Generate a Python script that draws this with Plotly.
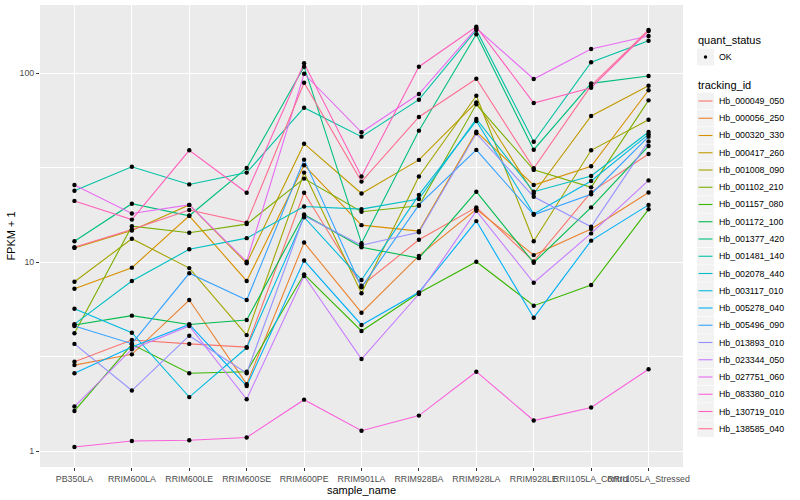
import plotly.graph_objects as go

samples = ["PB350LA", "RRIM600LA", "RRIM600LE", "RRIM600SE", "RRIM600PE",
           "RRIM901LA", "RRIM928BA", "RRIM928LA", "RRIM928LE",
           "RRII105LA_Control", "RRII105LA_Stressed"]

tracking_ids = ["Hb_000049_050", "Hb_000056_250", "Hb_000320_330", "Hb_000417_260",
                "Hb_001008_090", "Hb_001102_210", "Hb_001157_080", "Hb_001172_100",
                "Hb_001377_420", "Hb_001481_140", "Hb_002078_440", "Hb_003117_010",
                "Hb_005278_040", "Hb_005496_090", "Hb_013893_010", "Hb_023344_050",
                "Hb_027751_060", "Hb_083380_010", "Hb_130719_010", "Hb_138585_040"]

colors = ["#F8766D", "#EA8331", "#D89000", "#C09B00", "#A3A500", "#7CAE00", "#39B600",
          "#00BB4E", "#00BF7D", "#00C1A3", "#00BFC4", "#00BAE0", "#00B0F6", "#35A2FF",
          "#9590FF", "#C77CFF", "#E76BF3", "#FA62DB", "#FF62BC", "#FF6C91"]

# FPKM + 1 per sample (order of `samples`)
hb_000049_050 = [2.97, 3.87, 3.69, 3.55, 23.3, 7.50, 13.15, 19.5, 10.1, 23.5, 37.4]
hb_000056_250 = [2.85, 3.25, 6.30, 2.26, 12.7, 5.40, 10.8, 19.05, 10.9, 15.0, 23.4]
hb_000320_330 = [7.23, 9.35, 17.6, 7.95, 32.6, 15.7, 14.6, 49.1, 25.6, 32.2, 81.3]
hb_000417_260 = [11.9, 14.7, 20.1, 9.86, 42.4, 23.1, 34.8, 70.2, 23.1, 59.4, 86.0]
hb_001008_090 = [7.88, 13.3, 9.3, 4.11, 29.8, 6.84, 28.4, 76.1, 12.9, 39.1, 56.8]
hb_001102_210 = [4.20, 15.5, 14.3, 15.9, 27.7, 18.5, 19.9, 68.5, 30.8, 24.9, 71.9]
hb_001157_080 = [1.63, 3.67, 2.58, 2.63, 8.62, 4.32, 6.86, 10.05, 5.88, 7.57, 19.05]
hb_001172_100 = [4.65, 5.21, 4.68, 4.94, 17.9, 12.0, 10.5, 23.6, 9.93, 19.5, 41.2]
hb_001377_420 = [12.9, 20.4, 17.6, 31.5, 108.4, 12.6, 49.7, 160.9, 39.4, 88.5, 96.8]
hb_001481_140 = [23.9, 32.0, 25.8, 29.8, 65.7, 46.2, 72.5, 169.6, 43.4, 114.4, 148.8]
hb_002078_440 = [4.70, 7.95, 11.7, 13.4, 19.7, 19.1, 21.6, 57.3, 23.6, 28.6, 48.9]
hb_003117_010 = [5.67, 4.23, 1.93, 3.52, 17.3, 8.05, 22.7, 55.9, 18.0, 26.9, 47.5]
hb_005278_040 = [2.58, 3.55, 4.68, 2.21, 10.2, 4.65, 6.92, 16.5, 5.08, 13.0, 20.1]
hb_005496_090 = [4.59, 3.70, 8.73, 6.30, 34.9, 7.36, 20.1, 39.3, 17.8, 22.9, 46.2]
hb_013893_010 = [3.69, 2.09, 4.08, 2.58, 17.6, 12.3, 14.4, 48.1, 22.2, 15.4, 43.6]
hb_023344_050 = [1.72, 3.46, 4.59, 1.88, 8.45, 3.07, 6.78, 18.7, 7.78, 14.2, 27.1]
hb_027751_060 = [25.6, 18.1, 20.1, 10.05, 99.5, 48.7, 77.7, 173.1, 93.3, 134.5, 157.6]
hb_083380_010 = [1.05, 1.13, 1.14, 1.18, 1.87, 1.28, 1.54, 2.63, 1.45, 1.70, 2.71]
hb_130719_010 = [21.1, 16.8, 39.1, 23.3, 113.0, 28.4, 108.4, 176.5, 69.6, 83.9, 167.5]
hb_138585_040 = [12.0, 14.9, 18.9, 16.2, 89.2, 26.7, 58.7, 93.6, 31.4, 86.0, 169.6]

series = [hb_000049_050, hb_000056_250, hb_000320_330, hb_000417_260, hb_001008_090,
          hb_001102_210, hb_001157_080, hb_001172_100, hb_001377_420, hb_001481_140,
          hb_002078_440, hb_003117_010, hb_005278_040, hb_005496_090, hb_013893_010,
          hb_023344_050, hb_027751_060, hb_083380_010, hb_130719_010, hb_138585_040]

y_ticks = [1, 10, 100]
y_minor = [10 ** 0.5, 10 ** 1.5]

FONT = "Liberation Sans, Arial, sans-serif"
W, H = 800, 500
ML, MR, MT, MB = 40, 117, 5, 33
PW, PH = W - ML - MR, H - MT - MB

fig = go.Figure()

for tid, col, vals in zip(tracking_ids, colors, series):
    fig.add_trace(go.Scatter(x=samples, y=vals, mode="lines", name=tid,
                             line=dict(color=col, width=1.1), showlegend=False))
for tid, vals in zip(tracking_ids, series):
    fig.add_trace(go.Scatter(x=samples, y=vals, mode="markers", name=tid,
                             marker=dict(color="black", size=4.4, symbol="circle"),
                             showlegend=False))


def px(xp):
    return (xp - ML) / PW


def py(yp):
    return (H - MB - yp) / PH


shapes = []
annotations = []

# legend: quant_status
annotations.append(dict(x=px(696), y=py(40), xref="paper", yref="paper", text="quant_status",
                        showarrow=False, xanchor="left", yanchor="middle",
                        font=dict(family=FONT, size=11, color="black")))
shapes.append(dict(type="rect", xref="paper", yref="paper", x0=px(697), x1=px(714),
                   y0=py(48.5), y1=py(65.5), fillcolor="#F2F2F2", line=dict(width=0)))
shapes.append(dict(type="circle", xref="paper", yref="paper", x0=px(703.8), x1=px(707.2),
                   y0=py(55.3), y1=py(58.7), fillcolor="black", line=dict(width=0)))
annotations.append(dict(x=px(716.5), y=py(57), xref="paper", yref="paper", text="OK",
                        showarrow=False, xanchor="left", yanchor="middle",
                        font=dict(family=FONT, size=8.8, color="black")))

# legend: tracking_id
annotations.append(dict(x=px(696), y=py(85), xref="paper", yref="paper", text="tracking_id",
                        showarrow=False, xanchor="left", yanchor="middle",
                        font=dict(family=FONT, size=11, color="black")))
step = 17.25
for i, (tid, col) in enumerate(zip(tracking_ids, colors)):
    yc = 101 + i * step
    shapes.append(dict(type="rect", xref="paper", yref="paper", x0=px(697), x1=px(714),
                       y0=py(yc - 8.3), y1=py(yc + 8.3), fillcolor="#F2F2F2", line=dict(width=0)))
    shapes.append(dict(type="line", xref="paper", yref="paper", x0=px(698.5), x1=px(712.5),
                       y0=py(yc), y1=py(yc), line=dict(color=col, width=1.1)))
    annotations.append(dict(x=px(716.5), y=py(yc), xref="paper", yref="paper", text=tid,
                            showarrow=False, xanchor="left", yanchor="middle",
                            font=dict(family=FONT, size=8.8, color="black")))

fig.update_layout(
    width=W, height=H,
    margin=dict(l=ML, r=MR, t=MT, b=MB, pad=0),
    paper_bgcolor="white", plot_bgcolor="#EBEBEB",
    font=dict(family=FONT, size=8.8, color="#4D4D4D"),
    shapes=shapes, annotations=annotations,
    showlegend=False,
    xaxis=dict(type="category", categoryorder="array", categoryarray=samples,
               range=[-0.6, 10.6], showgrid=True, gridcolor="white", gridwidth=1.07,
               zeroline=False, showline=False, ticks="outside", ticklen=3,
               tickcolor="#333333", tickwidth=1, tickangle=0,
               tickfont=dict(family=FONT, size=8.8, color="#4D4D4D"),
               title=dict(text="sample_name", standoff=3,
                          font=dict(family=FONT, size=11, color="black")),
               automargin=False),
    yaxis=dict(type="log", range=[-0.0847, 2.3617], tickvals=y_ticks,
               ticktext=[str(v) for v in y_ticks],
               showgrid=True, gridcolor="white", gridwidth=1.07, zeroline=False,
               showline=False, ticks="outside", ticklen=3, tickcolor="#333333", tickwidth=1,
               tickfont=dict(family=FONT, size=8.8, color="#4D4D4D"),
               minor=dict(tickvals=y_minor, showgrid=True, gridcolor="white", gridwidth=0.53,
                          ticks=""),
               title=dict(text="FPKM + 1", standoff=1,
                          font=dict(family=FONT, size=11, color="black")),
               automargin=False),
)

fig.write_html("out.html", config={"displayModeBar": False},
               post_script="document.body.style.margin='0';document.body.style.padding='0';")
